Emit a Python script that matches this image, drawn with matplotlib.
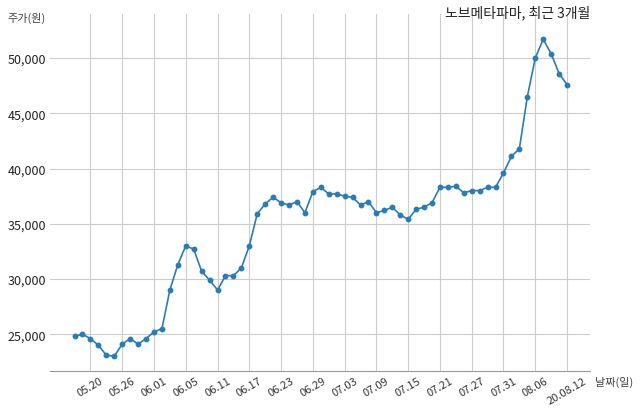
import matplotlib
matplotlib.use('Agg')
import matplotlib.pyplot as plt
import numpy as np

plt.rcParams['font.family'] = ['Noto Sans CJK KR', 'DejaVu Sans']

prices = [24800, 25000, 24600, 24000, 23100, 23000, 24100, 24600, 24100, 24600,
          25200, 25500, 29000, 31300, 33000, 32700, 30700, 29900, 29000, 30300,
          30300, 31000, 33000, 35900, 36800, 37400, 36900, 36700, 37000, 36000,
          37900, 38300, 37700, 37700, 37500, 37400, 36700, 37000, 36000, 36200,
          36500, 35800, 35400, 36300, 36500, 36900, 38300, 38300, 38400, 37800,
          38000, 38000, 38300, 38300, 39600, 41100, 41800, 46500, 50000, 51700,
          50400, 48600, 47600]
tick_labels = ['05.20', '05.26', '06.01', '06.05', '06.11', '06.17', '06.23', '06.29',
               '07.03', '07.09', '07.15', '07.21', '07.27', '07.31', '08.06', '20.08.12']
tick_pos = [2 + 4 * i for i in range(len(tick_labels))]
yticks = [25000, 30000, 35000, 40000, 45000, 50000]

fig = plt.figure(figsize=(6.4, 4.14), dpi=100)
ax = fig.add_axes([0.078, 0.101, 0.844, 0.863])

x = np.arange(len(prices))
ax.plot(x, prices, '-o', color='#2e7bb1', linewidth=1.2, markersize=3.2)

ax.set_xlim(-3.1, 64.9)
ax.set_ylim(21650, 54000)
ax.set_xticks(tick_pos)
ax.set_xticklabels(tick_labels, rotation=30, fontsize=8, color='#333333')
ax.set_yticks(yticks)
ax.set_yticklabels([f'{v:,}' for v in yticks], fontsize=9, color='#222222')
ax.tick_params(length=0, pad=3)
ax.grid(True, color='#cccccc', linewidth=0.8)
for s in ['top', 'right', 'left']:
    ax.spines[s].set_visible(False)
ax.spines['bottom'].set_color('#999999')

fig.text(0.012, 0.955, '주가(원)', fontsize=8, color='#444444', va='center')
fig.text(0.922, 0.968, '노브메타파마, 최근 3개월', fontsize=10, ha='right', va='center', color='#222222')
fig.text(0.93, 0.077, '날짜(일)', fontsize=8, color='#444444', va='center')

fig.savefig('out.png', dpi=100)
